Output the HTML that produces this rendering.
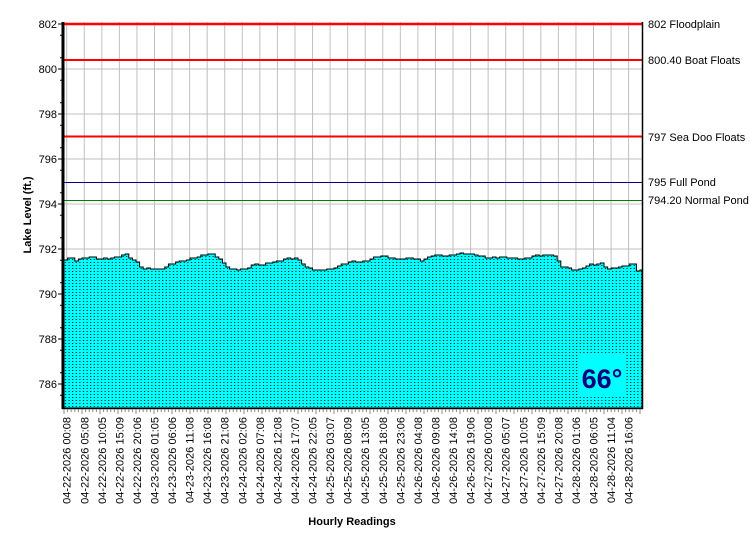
<!DOCTYPE html>
<html><head><meta charset="utf-8"><style>
body{margin:0;background:#fff;}
svg text{font-family:"Liberation Sans",Arial,sans-serif;font-size:11px;fill:#000;}
</style></head><body>
<svg id="s" width="750" height="550" xmlns="http://www.w3.org/2000/svg">
<defs>
<pattern id="dots" x="64" y="0" width="3.6" height="3" patternUnits="userSpaceOnUse">
<rect width="3.6" height="3" fill="#00ffff"/><rect x="1" y="1" width="1" height="1" fill="#000"/>
</pattern>
</defs>
<rect x="64" y="22" width="578" height="386" fill="#fff"/>
<g id="grid" stroke="#c0c0c0" stroke-width="1"></g>
<polygon id="area" fill="url(#dots)" stroke="#000" stroke-width="1"/>
<line x1="64" y1="24" x2="642" y2="24" stroke="#ff0000" stroke-width="2.5"/>
<line x1="64" y1="60" x2="642" y2="60" stroke="#ff0000" stroke-width="2"/>
<line x1="64" y1="136.5" x2="642" y2="136.5" stroke="#ff0000" stroke-width="2"/>
<line x1="64" y1="182.5" x2="642" y2="182.5" stroke="#000080" stroke-width="1"/>
<line x1="64" y1="200.5" x2="642" y2="200.5" stroke="#008000" stroke-width="1"/>
<line x1="63" y1="22" x2="63" y2="409" stroke="#000" stroke-width="3"/>
<line x1="642.5" y1="22" x2="642.5" y2="409" stroke="#000" stroke-width="1.5"/>
<line x1="62" y1="408.5" x2="643" y2="408.5" stroke="#000" stroke-width="1.5"/>
<g id="ticks" stroke="#000" stroke-width="1"></g>
<rect x="578" y="355" width="48" height="42" fill="#00ffff"/>
<text x="602" y="388" text-anchor="middle" style="font-size:27px;font-weight:bold;fill:#000080">66°</text>
<g id="ylab"></g>
<text x="648" y="28">802 Floodplain</text>
<text x="648" y="64">800.40 Boat Floats</text>
<text x="648" y="141">797 Sea Doo Floats</text>
<text x="648" y="186">795 Full Pond</text>
<text x="648" y="204">794.20 Normal Pond</text>
<g id="xlab"></g>
<text x="352" y="525" text-anchor="middle" style="font-weight:bold">Hourly Readings</text>
<text transform="translate(31,215) rotate(-90)" text-anchor="middle" style="font-weight:bold">Lake Level (ft.)</text>
</svg>
<script>
var NS="http://www.w3.org/2000/svg";
function el(p,t,a,txt){var e=document.createElementNS(NS,t);for(var k in a)e.setAttribute(k,a[k]);if(txt)e.textContent=txt;document.getElementById(p).appendChild(e);return e;}
function Y(v){return 24+(802-v)*22.5;}
for(var i=0;i<33;i++){var x=66.7+17.56*i;el("grid","line",{x1:x,y1:22,x2:x,y2:408});}
for(var v=786;v<=800;v+=2){el("grid","line",{x1:64,y1:Y(v),x2:642,y2:Y(v)});}
for(var v=786;v<=802;v+=2){el("ylab","text",{x:57,y:Y(v)+4,"text-anchor":"end"},String(v));el("ticks","line",{x1:58,y1:Y(v),x2:63,y2:Y(v)});}
for(var v=785.5;v<802;v+=1){if(v%2!=0)el("ticks","line",{x1:60,y1:Y(v),x2:63,y2:Y(v)});}
for(var i=0;i<=160;i++){var x=64+i*3.6;el("ticks","line",{x1:x,y1:409,x2:x,y2:i%5==0?414:412,stroke:"#888"});}
var labs=["04-22-2026 00:08","04-22-2026 05:08","04-22-2026 10:05","04-22-2026 15:09","04-22-2026 20:06","04-23-2026 01:05","04-23-2026 06:06","04-23-2026 11:08","04-23-2026 16:08","04-23-2026 21:08","04-24-2026 02:06","04-24-2026 07:08","04-24-2026 12:08","04-24-2026 17:07","04-24-2026 22:05","04-25-2026 03:07","04-25-2026 08:09","04-25-2026 13:05","04-25-2026 18:08","04-25-2026 23:06","04-26-2026 04:08","04-26-2026 09:08","04-26-2026 14:08","04-26-2026 19:06","04-27-2026 00:08","04-27-2026 05:07","04-27-2026 10:05","04-27-2026 15:09","04-27-2026 20:08","04-28-2026 01:06","04-28-2026 06:05","04-28-2026 11:04","04-28-2026 16:06"];
for(var i=0;i<33;i++){var x=66.7+17.56*i+4;el("xlab","text",{transform:"translate("+x+",417) rotate(-90)","text-anchor":"end"},labs[i]);}
var kp=[[64,791.55],[70,791.6],[75,791.5],[90,791.65],[100,791.55],[110,791.6],[125,791.75],[135,791.45],[142,791.1],[150,791.15],[160,791.1],[170,791.35],[185,791.5],[200,791.7],[210,791.78],[218,791.6],[228,791.1],[245,791.1],[252,791.3],[262,791.3],[270,791.4],[285,791.55],[295,791.6],[305,791.2],[315,791.05],[330,791.1],[350,791.45],[360,791.4],[372,791.6],[382,791.7],[395,791.55],[410,791.6],[420,791.5],[435,791.75],[445,791.7],[460,791.8],[475,791.75],[485,791.6],[500,791.65],[510,791.6],[520,791.55],[535,791.7],[553,791.75],[560,791.25],[575,791.05],[590,791.3],[600,791.35],[608,791.1],[620,791.2],[632,791.35],[637,791.0],[642,791.1]];
function f(x){for(var j=0;j<kp.length-1;j++){if(x<=kp[j+1][0]){var t=(x-kp[j][0])/(kp[j+1][0]-kp[j][0]);return kp[j][1]+t*(kp[j+1][1]-kp[j][1]);}}return kp[kp.length-1][1];}
var pts=["64,408"];
for(var x=64;x<642;x+=3.6){var y=Math.round(Y(f(x)+((Math.round(x/3.6)%3)-1)*0.02));pts.push(x.toFixed(1)+","+y);pts.push(Math.min(642,x+3.6).toFixed(1)+","+y);}
pts.push("642,408");
document.getElementById("area").setAttribute("points",pts.join(" "));
</script>
</body></html>
